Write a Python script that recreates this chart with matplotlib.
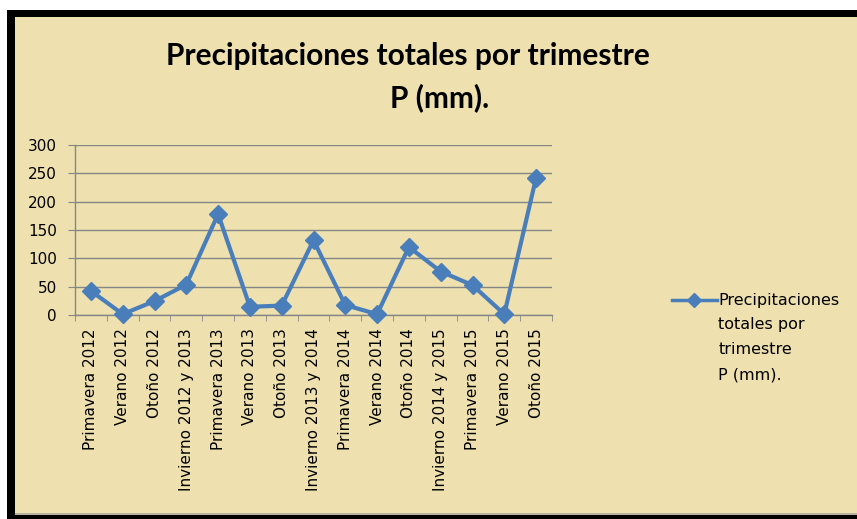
import matplotlib
matplotlib.use("Agg")
import matplotlib.pyplot as plt
from matplotlib.patches import Rectangle
import numpy as np

plt.rcParams["font.family"] = ["DejaVu Sans"]

categorias = ["Primavera 2012", "Verano 2012", "Otoño 2012", "Invierno 2012 y 2013",
              "Primavera 2013", "Verano 2013", "Otoño 2013", "Invierno 2013 y 2014",
              "Primavera 2014", "Verano 2014", "Otoño 2014", "Invierno 2014 y 2015",
              "Primavera 2015", "Verano 2015", "Otoño 2015"]
precip = [43, 2, 25, 54, 178, 15, 17, 132, 18, 2, 120, 77, 53, 2, 242]
yticks = [0, 50, 100, 150, 200, 250, 300]

beige = "#EEE1AF"
azul = "#4A7EBB"
gris = "#868686"

fig = plt.figure(figsize=(8.57, 5.19), dpi=100, facecolor="white")
W, H = 857, 519

# marco negro + fondo
fig.add_artist(Rectangle((7 / W, 0), 850 / W, 509 / H, transform=fig.transFigure,
                         facecolor="black", edgecolor="none", zorder=-3))
fig.add_artist(Rectangle((15 / W, 4 / H), 842 / W, 498 / H, transform=fig.transFigure,
                         facecolor="#B8B3A0", edgecolor="none", zorder=-2))
fig.add_artist(Rectangle((15 / W, 6 / H), 842 / W, 496 / H, transform=fig.transFigure,
                         facecolor=beige, edgecolor="none", zorder=-1))

ax = fig.add_axes([75 / W, 1 - 315.3 / H, 477 / W, 170.6 / H])
ax.set_facecolor("none")

x = np.arange(len(categorias))
ax.plot(x, precip, color=azul, lw=3, marker="D", ms=9, mfc=azul, mec=azul,
        label="Precipitaciones", zorder=4, clip_on=False)

ax.set_xlim(-0.5, len(categorias) - 0.5)
ax.set_ylim(0, 300)
ax.set_yticks(yticks)
ax.grid(axis="y", color=gris, lw=1)
ax.set_axisbelow(True)
for s in ["top", "right"]:
    ax.spines[s].set_visible(False)
for s in ["left", "bottom"]:
    ax.spines[s].set_color(gris)
    ax.spines[s].set_linewidth(1)

ax.set_xticks(x)
ax.set_xticklabels(categorias, rotation=90, va="top", ha="center")
ax.set_xticks(np.arange(len(categorias) + 1) - 0.5, minor=True)
ax.tick_params(axis="x", which="major", length=0, pad=9.5, labelsize=11)
ax.tick_params(axis="x", which="minor", length=4, color=gris, direction="out")
ax.tick_params(axis="y", length=5, color=gris, pad=8, labelsize=11)

fig.text(408 / W, 1 - 56 / H, "Precipitaciones totales por trimestre",
         ha="center", va="center", fontsize=21.5, fontweight="bold", family="Lato")
fig.text(440 / W, 1 - 98 / H, "P (mm).",
         ha="center", va="center", fontsize=21.5, fontweight="bold", family="Lato")

leg = ax.legend(loc="center left", bbox_to_anchor=(672 / W, 1 - 301 / H),
                bbox_transform=fig.transFigure, frameon=False, fontsize=11.5,
                handlelength=2.8, handletextpad=0.1, borderpad=0, borderaxespad=0,
                markerscale=0.75)
leg.get_lines()[0].set_linewidth(2.5)
ann = ax.annotate("totales por\ntrimestre\nP (mm).", xy=(0, 0),
                  xycoords=leg.get_texts()[0], xytext=(0, -6), textcoords="offset points",
                  ha="left", va="top", fontsize=11.5, linespacing=1.87,
                  annotation_clip=False)
ann.set_zorder(6)

fig.savefig("out.png", dpi=100, facecolor="white")
